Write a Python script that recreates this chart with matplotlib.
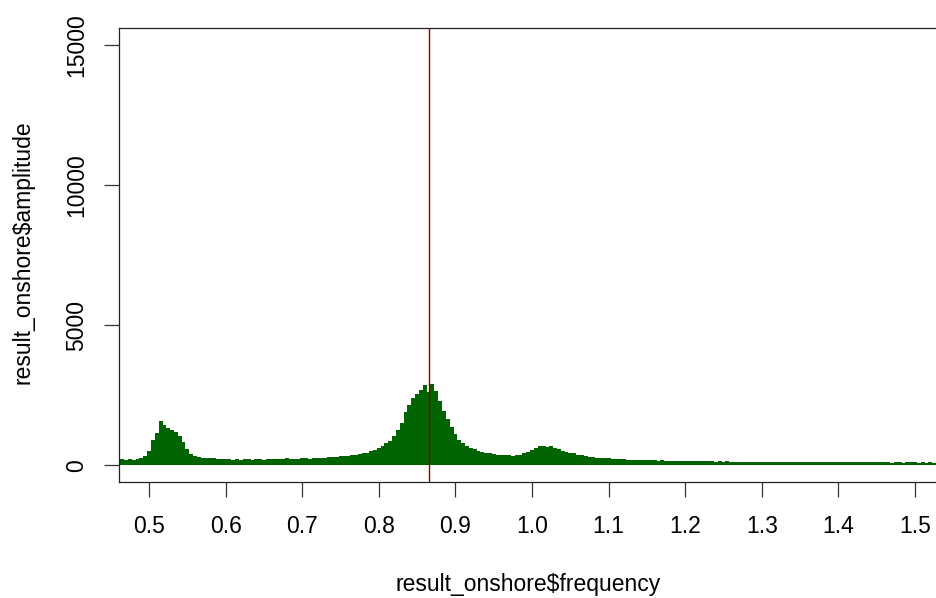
import numpy as np
import matplotlib
matplotlib.use("Agg")
import matplotlib.pyplot as plt

plt.rcParams['font.family'] = ['Liberation Sans', 'DejaVu Sans']

# frequency grid (0.460 .. 1.530, step 0.005)
frequency = np.round(np.arange(0.460, 1.5301, 0.005), 3)

amp_046 = [190, 210, 180, 220, 200, 230, 260, 330]
amp_050 = [520, 900, 1150, 1580, 1450, 1330, 1260, 1200, 1050, 820,
           560, 400, 330, 290, 270, 250, 240, 260, 230, 220]
amp_060 = [210, 230, 200, 215, 190, 220, 205, 200, 225, 210,
           195, 215, 230, 205, 220, 210, 240, 215, 230, 225]
amp_070 = [240, 250, 230, 260, 255, 270, 250, 280, 300, 290,
           310, 330, 320, 350, 360, 390, 420, 450, 500, 540]
amp_080 = [600, 700, 800, 880, 1050, 1250, 1500, 1900, 2150, 2400,
           2550, 2700, 2850, 2620, 2900, 2650, 2300, 1950, 1650, 1350]
amp_090 = [1100, 900, 780, 680, 620, 560, 500, 470, 450, 430,
           400, 380, 370, 350, 360, 340, 350, 380, 420, 470]
amp_100 = [540, 620, 680, 700, 650, 690, 620, 560, 520, 470,
           430, 420, 380, 360, 330, 300, 290, 270, 260, 250]
amp_110 = [240, 230, 220, 215, 205, 200, 195, 190, 185, 180,
           175, 170, 175, 165, 170, 160, 165, 155, 160, 150]
amp_120 = [150, 145, 150, 140, 145, 140, 135, 140, 130, 135,
           130, 135, 125, 130, 125, 130, 120, 125, 120, 125]
amp_130 = [120, 115, 120, 115, 120, 110, 115, 120, 110, 115,
           110, 115, 110, 105, 115, 110, 105, 110, 105, 110]
amp_140 = [105, 110, 100, 105, 110, 100, 105, 100, 110, 100,
           105, 100, 105, 100, 95, 105, 100, 95, 100, 105]
amp_150 = [100, 95, 100, 95, 100, 95, 100]

amplitude = np.array(amp_046 + amp_050 + amp_060 + amp_070 + amp_080 + amp_090
                     + amp_100 + amp_110 + amp_120 + amp_130 + amp_140 + amp_150)

peak_freq = 0.8655
x_ticks = [0.5, 0.6, 0.7, 0.8, 0.9, 1.0, 1.1, 1.2, 1.3, 1.4, 1.5]
x_labels = ["0.5", "0.6", "0.7", "0.8", "0.9", "1.0", "1.1", "1.2", "1.3", "1.4", "1.5"]
y_ticks = [0, 5000, 10000, 15000]
y_labels = ["0", "5000", "10000", "15000"]

W, H = 937, 598
fig = plt.figure(figsize=(W / 100, H / 100), dpi=100)
x0, x1 = 0.4608, 1.54
px_per_unit = 766.0
left_px, top_px, bot_px = 119, 28, 482
width_px = (x1 - x0) * px_per_unit
ax = fig.add_axes([left_px / W, (H - bot_px) / H, width_px / W, (bot_px - top_px) / H])

ax.vlines(frequency, 0, amplitude, color='#006400', linewidth=2.9)
ax.axvline(peak_freq, color='#8B0000', linewidth=1.0)

ax.set_xlim(x0, x1)
ax.set_ylim(-600, 15600)
ax.set_xticks(x_ticks)
ax.set_xticklabels(x_labels)
ax.set_yticks(y_ticks)
ax.set_yticklabels(y_labels, rotation=90, va='center')

FS = 16.5
for s in ax.spines.values():
    s.set_linewidth(0.9)
    s.set_color('#222222')
ax.tick_params(axis='both', direction='out', length=10.8, width=0.9, colors='#333333',
               labelsize=FS, labelcolor='black')
ax.tick_params(axis='x', pad=13)
ax.tick_params(axis='y', pad=11.5)

fig.text(23 / W, 1 - 252 / H, "result_onshore$amplitude", rotation=90,
         ha='center', va='center', fontsize=FS)
fig.text(528 / W, 1 - 584 / H, "result_onshore$frequency",
         ha='center', va='center', fontsize=FS)

fig.savefig("out.png", dpi=100)
